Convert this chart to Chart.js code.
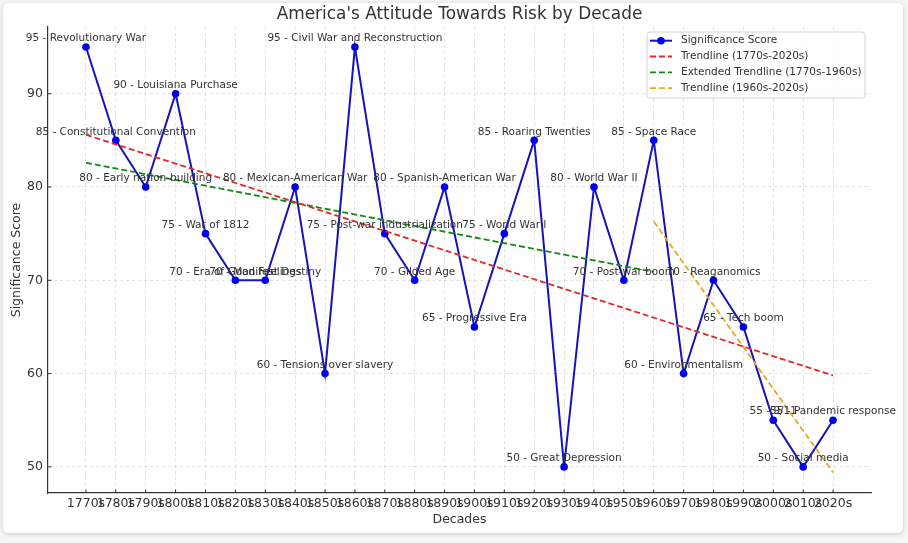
<!DOCTYPE html>
<html>
<head>
<meta charset="utf-8">
<title>America's Attitude Towards Risk by Decade</title>
<script src="https://cdn.jsdelivr.net/npm/chart.js@4.4.0/dist/chart.umd.min.js"></script>
<style>
  html, body { margin: 0; padding: 0; background: #f6f6f6; overflow: hidden; }
  #card {
    position: absolute; left: 3px; top: 3px; width: 900px; height: 530px;
    background: #fff; border-radius: 5px;
    box-shadow: 0 1px 5px rgba(0, 0, 0, 0.18);
  }
  #wrap { position: absolute; left: 0; top: 0; width: 908px; height: 543px; }
</style>
</head>
<body>
<div id="card"></div>
<div id="wrap"><canvas id="riskChart"></canvas></div>
<script>
  // decades on the x axis
  const decades = ['1770s', '1780s', '1790s', '1800s', '1810s', '1820s', '1830s', '1840s', '1850s',
    '1860s', '1870s', '1880s', '1890s', '1900s', '1910s', '1920s', '1930s', '1940s', '1950s',
    '1960s', '1970s', '1980s', '1990s', '2000s', '2010s', '2020s'];

  const scores = [95, 85, 80, 90, 75, 70, 70, 80, 60, 95, 75, 70, 80, 65, 75, 85, 50, 80, 70,
    85, 60, 70, 65, 55, 50, 55];

  const events = ['Revolutionary War', 'Constitutional Convention', 'Early nation-building',
    'Louisiana Purchase', 'War of 1812', 'Era of Good Feelings', 'Manifest Destiny',
    'Mexican-American War', 'Tensions over slavery', 'Civil War and Reconstruction',
    'Post-war industrialization', 'Gilded Age', 'Spanish-American War', 'Progressive Era',
    'World War I', 'Roaring Twenties', 'Great Depression', 'World War II', 'Post-war boom',
    'Space Race', 'Environmentalism', 'Reaganomics', 'Tech boom', '9/11', 'Social media',
    'Pandemic response'];

  // trendline end values
  const trendAll = [85.6, 59.8];     // 1770s -> 2020s
  const trendEarly = [82.6, 70.9];   // 1770s -> 1960s
  const trendLate = [76.3, 49.4];    // 1960s -> 2020s

  const yTicks = [50, 60, 70, 80, 90];

  const FONT = '"DejaVu Sans", Verdana, sans-serif';
  const TEXT = '#333333';

  const i1960 = decades.indexOf('1960s');
  const iLast = decades.length - 1;

  const pointLabels = {
    id: 'pointLabels',
    afterDatasetsDraw(chart) {
      const ctx = chart.ctx;
      const meta = chart.getDatasetMeta(0);
      ctx.save();
      ctx.font = '10.5px ' + FONT;
      ctx.fillStyle = TEXT;
      ctx.textAlign = 'center';
      ctx.textBaseline = 'middle';
      meta.data.forEach((pt, i) => {
        ctx.fillText(scores[i] + ' - ' + events[i], pt.x, pt.y - 8.5);
      });
      ctx.restore();
    }
  };

  const decorations = {
    id: 'decorations',
    afterDraw(chart) {
      const ctx = chart.ctx;
      const area = chart.chartArea;
      const xs = chart.scales.x, ys = chart.scales.y;
      ctx.save();

      // title
      ctx.font = '16.9px ' + FONT;
      ctx.fillStyle = TEXT;
      ctx.textAlign = 'center';
      ctx.textBaseline = 'middle';
      ctx.fillText("America's Attitude Towards Risk by Decade", (area.left + area.right) / 2, 14.5);

      // small inward tick marks
      ctx.strokeStyle = '#333';
      ctx.lineWidth = 1;
      ctx.beginPath();
      xs.ticks.forEach(t => {
        const px = xs.getPixelForValue(t.value);
        ctx.moveTo(px, area.bottom);
        ctx.lineTo(px, area.bottom - 3.5);
      });
      ys.ticks.forEach(t => {
        const py = ys.getPixelForValue(t.value);
        ctx.moveTo(area.left, py);
        ctx.lineTo(area.left + 3.5, py);
      });
      ctx.stroke();

      // legend box
      const bw = 218, bh = 66;
      const bx = area.right - 6 - bw, by = area.top + 5;
      ctx.beginPath();
      ctx.roundRect(bx, by, bw, bh, 3);
      ctx.fillStyle = 'rgba(255,255,255,0.85)';
      ctx.fill();
      ctx.strokeStyle = '#d4d4d4';
      ctx.lineWidth = 1;
      ctx.stroke();

      ctx.font = '10.5px ' + FONT;
      ctx.textAlign = 'left';
      chart.data.datasets.forEach((ds, i) => {
        const ry = by + 8.7 + i * 15.8;
        ctx.beginPath();
        ctx.setLineDash(ds.borderDash || []);
        ctx.strokeStyle = ds.borderColor;
        ctx.lineWidth = ds.borderWidth;
        ctx.moveTo(bx + 3, ry);
        ctx.lineTo(bx + 25, ry);
        ctx.stroke();
        ctx.setLineDash([]);
        if (ds.pointRadius > 0) {
          ctx.beginPath();
          ctx.arc(bx + 14, ry, ds.pointRadius, 0, Math.PI * 2);
          ctx.fillStyle = ds.pointBackgroundColor;
          ctx.fill();
        }
        ctx.fillStyle = TEXT;
        ctx.fillText(ds.label, bx + 34, ry);
      });
      ctx.restore();
    }
  };

  document.addEventListener('DOMContentLoaded', function () {
    const ctx = document.getElementById('riskChart').getContext('2d');
    new Chart(ctx, {
      type: 'line',
      data: {
        datasets: [
          {
            label: 'Significance Score',
            data: scores.map((v, i) => ({ x: i, y: v })),
            borderColor: '#1414bd',
            borderWidth: 2,
            pointRadius: 3.8,
            pointBackgroundColor: '#0000ee',
            pointBorderWidth: 0,
            tension: 0,
            order: 1
          },
          {
            label: 'Trendline (1770s-2020s)',
            data: [{ x: 0, y: trendAll[0] }, { x: iLast, y: trendAll[1] }],
            borderColor: '#de2a2a',
            borderWidth: 1.8,
            borderDash: [6, 3],
            pointRadius: 0,
            order: 0
          },
          {
            label: 'Extended Trendline (1770s-1960s)',
            data: [{ x: 0, y: trendEarly[0] }, { x: i1960, y: trendEarly[1] }],
            borderColor: '#108a10',
            borderWidth: 1.8,
            borderDash: [6, 3],
            pointRadius: 0,
            order: 0
          },
          {
            label: 'Trendline (1960s-2020s)',
            data: [{ x: i1960, y: trendLate[0] }, { x: iLast, y: trendLate[1] }],
            borderColor: '#e6aa22',
            borderWidth: 1.8,
            borderDash: [6, 3],
            pointRadius: 0,
            order: 0
          }
        ]
      },
      options: {
        responsive: true,
        maintainAspectRatio: false,
        animation: false,
        layout: { padding: { top: 27, right: 37, left: 0, bottom: 0 } },
        plugins: {
          legend: { display: false },
          tooltip: { enabled: false },
          title: { display: false }
        },
        scales: {
          x: {
            type: 'linear',
            min: -1.27,
            max: iLast + 1.27,
            afterBuildTicks: s => { s.ticks = decades.map((d, i) => ({ value: i })); },
            afterFit: s => { s.height = 50; },
            ticks: {
              autoSkip: false,
              maxRotation: 0,
              minRotation: 0,
              padding: 3,
              color: TEXT,
              font: { family: FONT, size: 12.5 },
              callback: v => decades[v]
            },
            grid: { color: '#dadada', lineWidth: 0.8, drawTicks: false },
            border: { display: true, color: '#333', width: 1.2, dash: [3, 3] },
            title: {
              display: true, text: 'Decades', color: TEXT,
              font: { family: FONT, size: 12.5 }, padding: { top: 0, bottom: 15.5 }
            }
          },
          y: {
            min: 47.2,
            max: 97.15,
            afterBuildTicks: s => { s.ticks = yTicks.map(v => ({ value: v })); },
            afterFit: s => { s.width = 48; },
            ticks: {
              padding: 5,
              color: TEXT,
              font: { family: FONT, size: 12.5 }
            },
            grid: { color: '#dadada', lineWidth: 0.8, drawTicks: false },
            border: { display: true, color: '#333', width: 1.2, dash: [3, 3] },
            title: {
              display: true, text: 'Significance Score', color: TEXT,
              font: { family: FONT, size: 12.5 }, padding: { top: 9.5, bottom: 0 }
            }
          }
        }
      },
      plugins: [pointLabels, decorations]
    });
  });
</script>
</body>
</html>
